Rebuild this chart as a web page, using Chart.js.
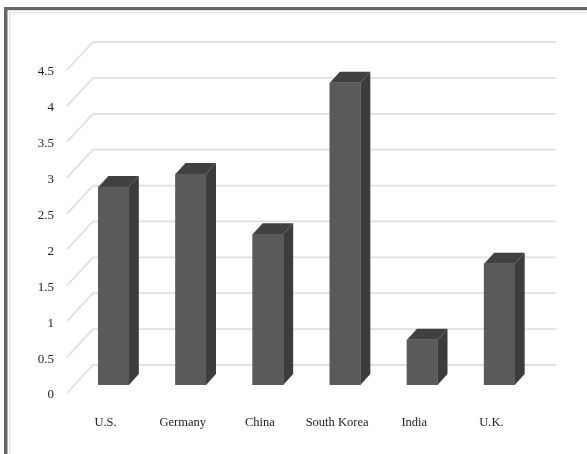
<!DOCTYPE html>
<html>
<head>
<meta charset="utf-8">
<style>
  html, body { margin: 0; padding: 0; background: #fff; }
  #wrap { position: relative; width: 587px; height: 454px; }
  canvas { position: absolute; left: 0; top: 0; }
</style>
<script src="https://cdn.jsdelivr.net/npm/chart.js@4/dist/chart.umd.min.js"></script>
</head>
<body>
<div id="wrap"><canvas id="chart" width="587" height="454"></canvas></div>
<script>
const categories = ['U.S.', 'Germany', 'China', 'South Korea', 'India', 'U.K.'];
const values = [2.76, 2.94, 2.1, 4.21, 0.63, 1.69];
const yTicks = [0, 0.5, 1, 1.5, 2, 2.5, 3, 3.5, 4, 4.5];

const FRONT = '#5a5a5a', TOP = '#404040', SIDE = '#3c3c3c', GRID = '#e0e0e0';
const WALL_DX = 26, WALL_DY = 28;   // depth of the back wall
const BAR_SHIFT = 8;                // bars stand part-way back on the floor
const BAR_DX = 10, BAR_DY = 11;     // depth of each bar

// Back wall and left side wall lines, taken from the value axis ticks
const wallGrid = {
  id: 'wallGrid',
  beforeDatasetsDraw(chart) {
    const { ctx, chartArea: a, scales: { y } } = chart;
    ctx.save();
    ctx.strokeStyle = GRID;
    ctx.lineWidth = 1.8;
    y.ticks.forEach(t => {
      const py = y.getPixelForValue(t.value);
      ctx.beginPath();
      ctx.moveTo(a.left, py);
      ctx.lineTo(a.left + WALL_DX, py - WALL_DY);
      ctx.lineTo(a.right + WALL_DX, py - WALL_DY);
      ctx.stroke();
    });
    ctx.restore();
  }
};

// Extrudes each bar: side and top faces behind the front face the library draws
const extrude = {
  id: 'extrude',
  beforeDatasetDraw(chart, args) {
    const { ctx } = chart;
    ctx.save();
    ctx.translate(BAR_SHIFT, -BAR_SHIFT);
    args.meta.data.forEach(bar => {
      const p = bar.getProps(['x', 'y', 'base', 'width'], true);
      const l = p.x - p.width / 2, r = p.x + p.width / 2;
      ctx.fillStyle = SIDE;
      ctx.beginPath();
      ctx.moveTo(r, p.y);
      ctx.lineTo(r + BAR_DX, p.y - BAR_DY);
      ctx.lineTo(r + BAR_DX, p.base - BAR_DY);
      ctx.lineTo(r, p.base);
      ctx.closePath();
      ctx.fill();
      ctx.fillStyle = TOP;
      ctx.beginPath();
      ctx.moveTo(l, p.y);
      ctx.lineTo(l + BAR_DX, p.y - BAR_DY);
      ctx.lineTo(r + BAR_DX, p.y - BAR_DY);
      ctx.lineTo(r, p.y);
      ctx.closePath();
      ctx.fill();
    });
  },
  afterDatasetDraw(chart) {
    chart.ctx.restore();
  }
};

// Double frame along the top and left of the picture
const frame = {
  id: 'frame',
  beforeDraw(chart) {
    const { ctx, width, height } = chart;
    ctx.save();
    ctx.fillStyle = '#fff';
    ctx.fillRect(0, 0, width, height);
    ctx.fillStyle = '#e6e6e6';
    ctx.fillRect(9, 12, width - 9, 1.5);
    ctx.fillRect(9, 12, 1.5, height - 12);
    ctx.fillStyle = '#666';
    ctx.fillRect(4, 7, width - 4, 3.2);
    ctx.fillRect(4, 7, 3.5, height - 7);
    ctx.restore();
  }
};

new Chart(document.getElementById('chart'), {
  type: 'bar',
  data: {
    labels: categories,
    datasets: [{
      data: values,
      backgroundColor: FRONT,
      barThickness: 30.5,
      borderWidth: 0
    }]
  },
  options: {
    responsive: false,
    animation: false,
    layout: { padding: { top: 70, right: 57, bottom: 0, left: 0 } },
    plugins: { legend: { display: false }, tooltip: { enabled: false } },
    scales: {
      x: {
        grid: { display: false },
        border: { display: false },
        afterFit(s) { s.height = 61; },
        ticks: {
          padding: 14,
          maxRotation: 0,
          color: '#222',
          font: { family: '"Liberation Serif"', size: 12.5 }
        }
      },
      y: {
        min: 0,
        max: 4.5,
        grid: { display: false },
        border: { display: false },
        afterFit(s) { s.width = 67; },
        afterBuildTicks(s) { s.ticks = yTicks.map(v => ({ value: v })); },
        ticks: {
          padding: 5,
          labelOffset: 2,
          color: '#222',
          font: { family: '"Liberation Serif"', size: 13 },
          callback: v => String(v)
        }
      }
    }
  },
  plugins: [frame, wallGrid, extrude]
});
</script>
</body>
</html>
